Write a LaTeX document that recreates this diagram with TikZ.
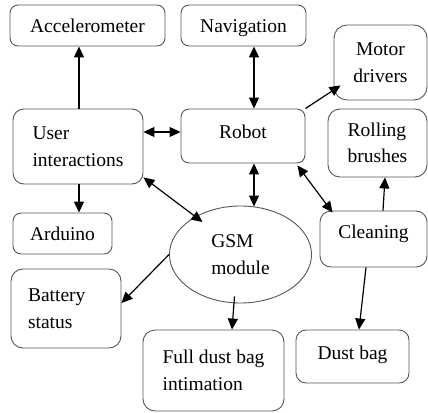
\documentclass[tikz,border=0pt]{standalone}
\usepackage{fontspec}
\setmainfont{Liberation Serif}
\usetikzlibrary{arrows.meta,shapes.geometric}
\definecolor{boxline}{RGB}{85,85,85}
\newcommand{\lifttext}[2]{\raisebox{#1}[\height][\depth]{#2}}
\tikzset{
  box/.style={draw=boxline, line width=0.9pt, rounded corners=8pt, inner sep=0pt,
    align=center, font=\fontsize{19.5}{26.5}\selectfont},
  oval/.style={draw=boxline, line width=0.9pt, ellipse, inner sep=0pt,
    align=left, font=\fontsize{19.5}{26.5}\selectfont},
  link/.style={line width=1.2pt, -{Triangle[length=11pt,width=10pt]}},
  both/.style={line width=1.2pt, {Triangle[length=11pt,width=10pt]}-{Triangle[length=11pt,width=10pt]}}
}
\begin{document}
\begin{tikzpicture}[x=1pt, y=-1pt]
\useasboundingbox (0,0) rectangle (428,412);

% boxes
\node[box, minimum width=155, minimum height=41] (acc) at (87.5,25.5) {Accelerometer};
\node[box, minimum width=125, minimum height=41] (nav) at (243.5,25.5) {\lifttext{-3pt}{Navigation}};
\node[box, minimum width=93, minimum height=75, rounded corners=13pt] (motor) at (380.5,62.5) {Motor\\drivers};
\node[box, minimum width=124, minimum height=54] (robot) at (243,136) {\lifttext{4pt}{Robot}};
\node[box, minimum width=130, minimum height=75, rounded corners=11pt, align=left] (ui) at (78,146.5) {User\\interactions};
\node[box, minimum width=99, minimum height=68, rounded corners=12pt, align=left] (roll) at (377.5,143) {Rolling\\brushes};
\node[box, minimum width=99, minimum height=41] (ard) at (62.5,233.5) {Arduino};
\node[oval, minimum width=142, minimum height=97] (gsm) at (240.5,254.5) {GSM\\module};
\node[box, minimum width=107, minimum height=56, rounded corners=11pt] (clean) at (373.5,239) {\lifttext{5pt}{Cleaning}};
\node[box, minimum width=110, minimum height=79, rounded corners=12pt, align=left,
      text width=76, inner xsep=17pt] (batt) at (66,308.5) {Battery\\status};
\node[box, minimum width=141, minimum height=81, rounded corners=12pt, align=left] (full) at (213.5,370.5) {Full dust bag\\intimation};
\node[box, minimum width=113, minimum height=53, rounded corners=10pt] (dust) at (352.5,356.5) {\lifttext{2pt}{Dust bag}};

% guide coordinates for straight connectors
\coordinate (rx) at (254,0);
\coordinate (ry) at (0,132);
\coordinate (ux) at (79,0);

% connectors
\draw[link] (ui.north -| ux) -- (acc.south -| ux);
\draw[both] (nav.south -| rx) -- (robot.north -| rx);
\draw[both] (ui.east |- ry) -- (robot.west |- ry);
\draw[link] (robot.north east) -- ([shift={(7,-15)}]motor.south west);
\draw[both] (robot.south -| rx) -- ([shift={(0,1)}]gsm.north -| rx);
\draw[both] ([shift={(0,-7)}]ui.south east) -- ([shift={(-38,-32.5)}]gsm.center);
\draw[both] ([shift={(-8,2)}]robot.south east) -- ([shift={(13,2)}]clean.north west);
\draw[link] ([xshift=9.5]clean.north) -- ([xshift=7.5]roll.south);
\draw[link] (ui.south -| ux) -- (ard.north -| ux);
\draw[link] (gsm.west) -- ([shift={(0,-5.5)}]batt.east);
\draw[link] ([shift={(-6,-7)}]gsm.south) -- ([xshift=18.5]full.north);
\draw[link] ([xshift=-7.5]clean.south) -- ([xshift=6.5]dust.north);
\end{tikzpicture}
\end{document}
